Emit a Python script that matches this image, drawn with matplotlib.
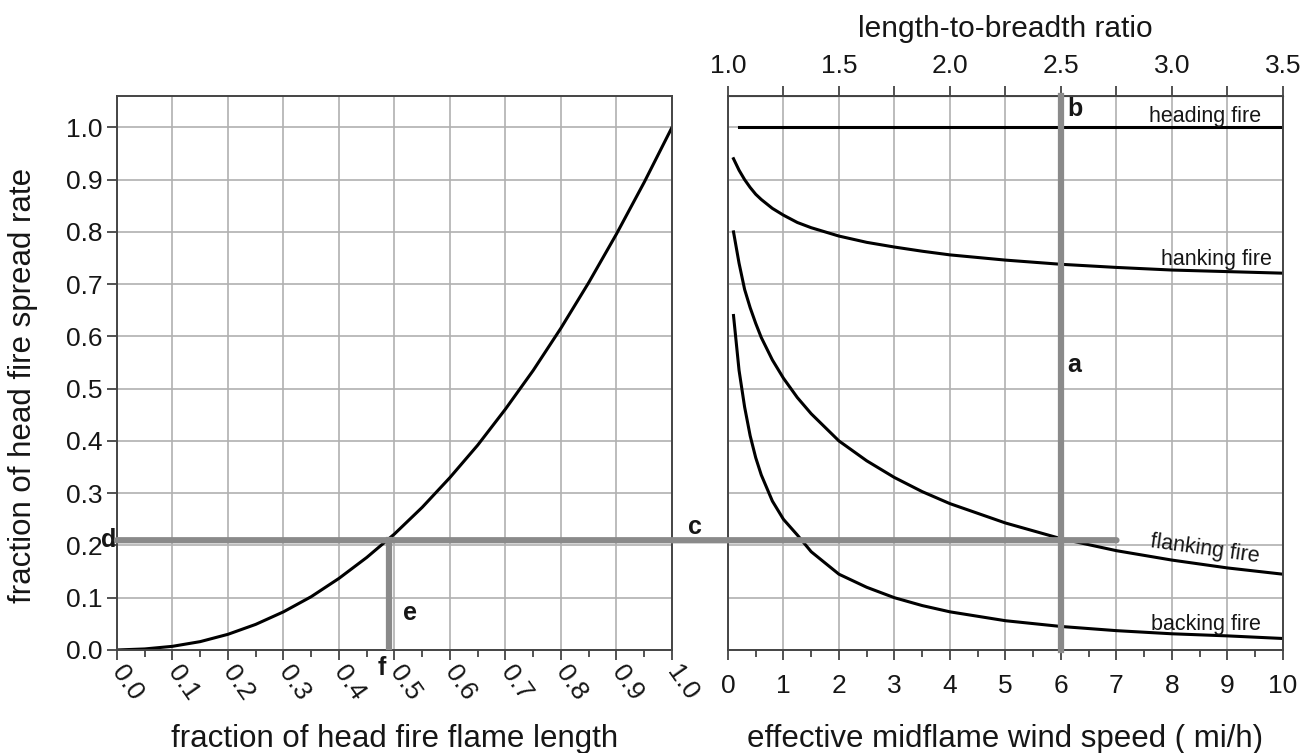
import matplotlib
matplotlib.use("Agg")
import matplotlib.pyplot as plt
from matplotlib.patches import ConnectionPatch

plt.rcParams['font.family'] = ['Liberation Sans', 'DejaVu Sans']

# Left panel: spread rate fraction vs flame length fraction
flame_frac = [0.0, 0.05, 0.1, 0.15, 0.2, 0.25, 0.3, 0.35, 0.4, 0.45, 0.5, 0.55, 0.6, 0.65, 0.7, 0.75, 0.8, 0.85, 0.9, 0.95, 1.0]
spread_frac = [0.0, 0.002, 0.007, 0.016, 0.030, 0.049, 0.073, 0.102, 0.137, 0.177, 0.222, 0.273, 0.330, 0.392, 0.461, 0.535, 0.616, 0.703, 0.796, 0.895, 1.0]

# Right panel: fraction of head fire spread rate vs wind speed
wind = [0.1, 0.2, 0.3, 0.4, 0.5, 0.6, 0.8, 1.0, 1.25, 1.5, 2.0, 2.5, 3.0, 3.5, 4.0, 5.0, 6.0, 7.0, 8.0, 9.0, 10.0]
hanking = [0.94, 0.918, 0.90, 0.885, 0.872, 0.862, 0.845, 0.832, 0.818, 0.808, 0.792, 0.780, 0.771, 0.763, 0.756, 0.746, 0.738, 0.732, 0.727, 0.724, 0.721]
flanking = [0.80, 0.74, 0.69, 0.655, 0.625, 0.598, 0.555, 0.52, 0.483, 0.452, 0.40, 0.362, 0.33, 0.303, 0.28, 0.243, 0.213, 0.19, 0.172, 0.157, 0.145]
backing = [0.64, 0.535, 0.465, 0.41, 0.368, 0.335, 0.285, 0.25, 0.22, 0.188, 0.145, 0.12, 0.10, 0.085, 0.073, 0.056, 0.045, 0.037, 0.031, 0.027, 0.022]
heading_x = [0.2, 10.0]
heading = [1.0, 1.0]

# Construction lines
spread_read = 0.21
flame_read = 0.49
wind_read = 6.0
wind_end = 7.0

left_xticks = [round(0.1 * i, 1) for i in range(11)]
left_yticks = [round(0.1 * i, 1) for i in range(11)]
right_xticks = list(range(11))
lb_ticks = [1.0, 1.5, 2.0, 2.5, 3.0, 3.5]

fig = plt.figure(figsize=(13.14, 7.53), dpi=100)
ax1 = fig.add_axes([0.089, 0.1368, 0.4224, 0.7357])
ax2 = fig.add_axes([0.554, 0.1368, 0.4224, 0.7357])

gridc = '#b0b0b0'
spc = '#444444'
txtc = '#161616'
fs = 19
lfs = 22.5

for ax in (ax1, ax2):
    for s in ax.spines.values():
        s.set_color(spc)
        s.set_linewidth(1.4)
    ax.set_ylim(0, 1.06)
    ax.set_yticks(left_yticks)
    ax.grid(True, color=gridc, lw=1.2)
    ax.set_axisbelow(True)
    ax.tick_params(colors=spc, labelcolor=txtc, labelsize=fs, width=1.3, length=7)

# Left
ax1.plot(flame_frac, spread_frac, color='black', lw=2.2)
ax1.set_xlim(0, 1)
ax1.set_xticks(left_xticks)
ax1.set_xticks([0.05 + 0.1 * i for i in range(10)], minor=True)
ax1.tick_params(axis='x', which='minor', length=5, color=spc, width=1.3)
ax1.set_xticklabels([f"{v:.1f}" for v in left_xticks], rotation=-55,
                    rotation_mode='anchor', ha='left', va='center')
ax1.tick_params(axis='x', pad=6)
ax1.set_yticklabels([f"{v:.1f}" for v in left_yticks])
ax1.set_ylabel('fraction of head fire spread rate', fontsize=lfs, color=txtc)
ax1.yaxis.set_label_coords(-0.142, 0.478)
ax1.set_xlabel('fraction of head fire flame length', fontsize=lfs, color=txtc)
ax1.xaxis.set_label_coords(0.5, -0.133)

# Right
ax2.plot(heading_x, heading, color='black', lw=2.2)
ax2.plot(wind, hanking, color='black', lw=2.2)
ax2.plot(wind, flanking, color='black', lw=2.2)
ax2.plot(wind, backing, color='black', lw=2.2)
ax2.set_xlim(0, 10)
ax2.set_xticks(right_xticks)
ax2.set_xticks([0.5 + i for i in range(10)], minor=True)
ax2.tick_params(axis='x', which='minor', length=5, color=spc, width=1.3)
ax2.tick_params(axis='x', pad=10)
ax2.tick_params(axis='y', left=False, labelleft=False)
ax2.set_xlabel('effective midflame wind speed ( mi/h)', fontsize=lfs, color=txtc)
ax2.xaxis.set_label_coords(0.5, -0.133)

sec = ax2.secondary_xaxis('top', functions=(lambda w: 1 + 0.25 * w, lambda r: (r - 1) / 0.25))
sec.set_xticks(lb_ticks)
sec.set_xticks([1.25 + 0.5 * i for i in range(5)], minor=True)
sec.set_xticklabels([f"{v:.1f}" for v in lb_ticks])
sec.tick_params(colors=spc, labelcolor=txtc, labelsize=fs, width=1.3, length=7, pad=6)
sec.tick_params(which='minor', length=7, width=1.3, color=spc)
sec.set_xlabel('length-to-breadth ratio', fontsize=21.5, labelpad=12, color=txtc)

# Gray construction lines
gc = '#8a8a8a'
con = ConnectionPatch(xyA=(0, spread_read), coordsA=ax1.transData,
                      xyB=(wind_end, spread_read), coordsB=ax2.transData,
                      color=gc, lw=4.5, zorder=5)
fig.add_artist(con)
ax2.plot([wind_read, wind_read], [0, 1.06], color=gc, lw=4.5, zorder=4, clip_on=False)
ax1.plot([flame_read, flame_read], [0, spread_read], color=gc, lw=4.5, zorder=4)

# Letters
lk = dict(fontsize=18, fontweight='bold', color=txtc)
ax2.text(wind_read + 0.12, 0.545, 'a', ha='left', va='center', **lk)
ax2.text(wind_read + 0.12, 1.036, 'b', ha='left', va='center', **lk)
ax2.text(-0.6, 0.235, 'c', ha='center', va='center', **lk)
ax1.text(-0.001, spread_read, 'd', ha='right', va='center', **lk)
ax1.text(flame_read + 0.025, 0.07, 'e', ha='left', va='center', **lk)
ax1.text(flame_read - 0.012, -0.035, 'f', ha='center', va='center', **lk)

# Curve labels
tk = dict(fontsize=15.5, color=txtc)
ax2.text(9.6, 1.0, 'heading fire', ha='right', va='bottom', **tk)
ax2.text(9.8, 0.728, 'hanking fire', ha='right', va='bottom', **tk)
ax2.text(9.6, 0.158, 'flanking fire', ha='right', va='bottom', rotation=-8, **tk)
ax2.text(9.6, 0.028, 'backing fire', ha='right', va='bottom', **tk)

fig.savefig('out.png', dpi=100)
